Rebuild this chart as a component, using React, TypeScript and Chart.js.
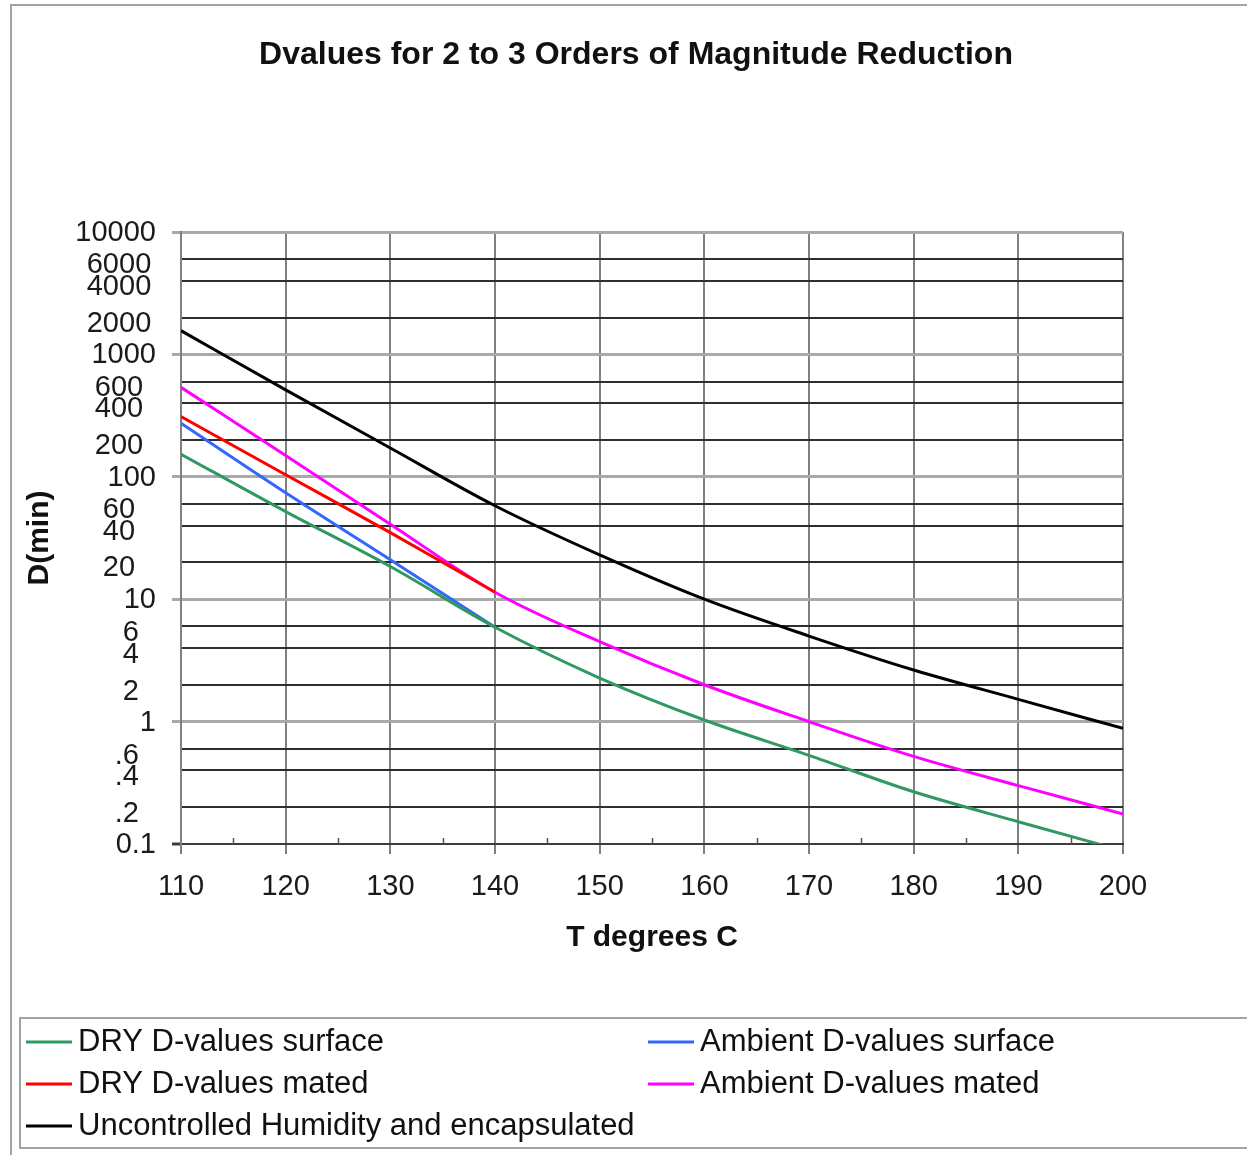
import React, { useEffect, useRef } from "react";
import { Chart, registerables } from "chart.js";

Chart.register(...registerables);

// ---------- data ----------
const temps = [110, 120, 130, 140, 150, 160, 170, 180, 190, 200];

const seriesLabels = [
  "DRY D-values surface",
  "Ambient D-values surface",
  "DRY D-values mated",
  "Ambient D-values mated",
  "Uncontrolled Humidity and encapsulated",
];
const seriesColors = ["#2f9961", "#3366ff", "#ff0000", "#ff00ff", "#000000"];

const drySurface = [153, 52, 18.5, 5.9, 2.27, 1.03, 0.53, 0.267, 0.152, 0.088];
const ambientSurface = [274, 74, 21, 5.9];
const dryMated = [310, 104, 35, 11.4];
const ambientMated = [538, 149, 41, 11.4, 4.5, 2.0, 1.0, 0.52, 0.3, 0.176];
const uncontrolled = [1563, 513, 172, 58, 23, 10, 5.0, 2.64, 1.52, 0.88];

const yTickValues = [0.1, 0.2, 0.4, 0.6, 1, 2, 4, 6, 10, 20, 40, 60, 100, 200, 400, 600, 1000, 2000, 4000, 6000, 10000];
const yTickLabels = ["0.1", ".2", ".4", ".6", "1", "2", "4", "6", "10", "20", "40", "60", "100", "200", "400", "600", "1000", "2000", "4000", "6000", "10000"];
const xMinorTicks = [115, 125, 135, 145, 155, 165, 175, 185, 195];

const chartTitle = "Dvalues for 2 to 3 Orders of Magnitude Reduction";
const xTitle = "T degrees C";
const yTitle = "D(min)";

// ---------- helpers ----------
const FONT = '"Liberation Sans", Arial, Helvetica, sans-serif';
const isDecade = (v: number) => {
  const l = Math.log10(v);
  return Math.abs(l - Math.round(l)) < 1e-9;
};
const toPoints = (vals: number[]) => vals.map((v, i) => ({ x: temps[i], y: v }));

const decorPlugin = {
  id: "decor",
  beforeDraw(chart: any) {
    const ctx = chart.ctx;
    ctx.save();
    ctx.fillStyle = "#ffffff";
    ctx.fillRect(0, 0, chart.width, chart.height);
    ctx.strokeStyle = "#a3a3a3";
    ctx.lineWidth = 2;
    ctx.beginPath();
    ctx.moveTo(11, chart.height);
    ctx.lineTo(11, 5);
    ctx.lineTo(chart.width, 5);
    ctx.stroke();
    ctx.restore();
  },
  afterDraw(chart: any) {
    const ctx = chart.ctx;
    const ys = chart.scales.y;
    const xs = chart.scales.x;
    const area = chart.chartArea;
    ctx.save();

    // title
    ctx.fillStyle = "#111111";
    ctx.font = `bold 32px ${FONT}`;
    ctx.textAlign = "center";
    ctx.textBaseline = "middle";
    ctx.fillText(chartTitle, 636, 55);

    // y tick labels
    ctx.font = `29px ${FONT}`;
    ctx.fillStyle = "#1a1a1a";
    yTickValues.forEach((v, i) => {
      const py = ys.getPixelForValue(v);
      if (isDecade(v)) {
        ctx.textAlign = "right";
        ctx.fillText(yTickLabels[i], area.left - 25, py + 1);
      } else if (v >= 20) {
        ctx.textAlign = "center";
        ctx.fillText(yTickLabels[i], area.left - 62, py + 6);
      } else {
        ctx.textAlign = "right";
        ctx.fillText(yTickLabels[i], area.left - 42, py + 7);
      }
    });

    // minor x ticks (inside)
    ctx.strokeStyle = "#555555";
    ctx.lineWidth = 1.5;
    xMinorTicks.forEach((t) => {
      const px = Math.round(xs.getPixelForValue(t)) + 0.5;
      ctx.beginPath();
      ctx.moveTo(px, area.bottom);
      ctx.lineTo(px, area.bottom - 6);
      ctx.stroke();
    });

    // legend
    const bx = 20, by = 1018, bh = 130;
    ctx.fillStyle = "#ffffff";
    ctx.fillRect(bx, by, chart.width - bx + 10, bh);
    ctx.strokeStyle = "#a3a3a3";
    ctx.lineWidth = 2;
    ctx.strokeRect(bx, by, chart.width - bx + 10, bh);
    const colX = [26, 648];
    ctx.font = `31px ${FONT}`;
    ctx.textAlign = "left";
    ctx.textBaseline = "middle";
    chart.data.datasets.forEach((ds: any, i: number) => {
      const col = i % 2;
      const row = Math.floor(i / 2);
      const x0 = colX[col];
      const y0 = 1042 + row * 42;
      ctx.strokeStyle = ds.borderColor;
      ctx.lineWidth = 3;
      ctx.beginPath();
      ctx.moveTo(x0, y0);
      ctx.lineTo(x0 + 46, y0);
      ctx.stroke();
      ctx.fillStyle = "#111111";
      ctx.fillText(ds.label, x0 + 52, y0);
    });

    ctx.restore();
  },
};

export default function App() {
  const ref = useRef<HTMLCanvasElement>(null);

  useEffect(() => {
    document.body.style.margin = "0";
    const canvas = ref.current;
    if (!canvas) return;
    Chart.defaults.font.family = FONT;

    const seriesData = [drySurface, ambientSurface, dryMated, ambientMated, uncontrolled];

    const chart = new Chart(canvas, {
      type: "line",
      data: {
        datasets: seriesData.map((vals, i) => ({
          label: seriesLabels[i],
          data: toPoints(vals),
          borderColor: seriesColors[i],
          backgroundColor: seriesColors[i],
          borderWidth: 3,
          pointRadius: 0,
          fill: false,
          cubicInterpolationMode: "monotone",
        })),
      },
      options: {
        responsive: false,
        maintainAspectRatio: false,
        devicePixelRatio: 1,
        animation: false,
        layout: { padding: { left: 10, right: 124, top: 232, bottom: 191 } },
        plugins: {
          legend: { display: false },
          title: { display: false },
          tooltip: { enabled: false },
        },
        scales: {
          x: {
            type: "linear",
            position: "bottom",
            min: 110,
            max: 200,
            ticks: {
              stepSize: 10,
              autoSkip: false,
              maxRotation: 0,
              padding: 16,
              color: "#1a1a1a",
              font: { family: FONT, size: 29 },
            },
            grid: {
              color: "#808080",
              lineWidth: 2,
              tickLength: 10,
              tickColor: "#808080",
              tickWidth: 2,
            },
            border: { display: true, color: "#3c3c3c", width: 2 },
            title: {
              display: true,
              text: xTitle,
              color: "#111111",
              font: { family: FONT, size: 30, weight: "bold" },
              padding: { top: 0, bottom: 8 },
            },
            afterFit: (s: any) => {
              s.height = 120;
            },
          },
          y: {
            type: "logarithmic",
            position: "left",
            min: 0.1,
            max: 10000,
            afterBuildTicks: (s: any) => {
              s.ticks = yTickValues.map((v) => ({ value: v }));
            },
            ticks: { display: false },
            grid: {
              color: (c: any) => {
                const v = c.tick ? c.tick.value : 1;
                if (v <= 0.1) return "#3c3c3c";
                return isDecade(v) ? "#a9a9a9" : "#2e2e2e";
              },
              lineWidth: (c: any) => {
                const v = c.tick ? c.tick.value : 1;
                if (v <= 0.1) return 2;
                return isDecade(v) ? 3 : 2;
              },
              tickLength: 9,
              tickColor: (c: any) => {
                const v = c.tick ? c.tick.value : 1;
                if (v <= 0.1) return "#3c3c3c";
                return isDecade(v) ? "#a9a9a9" : "rgba(0,0,0,0)";
              },
              tickWidth: 3,
            },
            border: { display: true, color: "#808080", width: 2 },
            title: {
              display: true,
              text: yTitle,
              color: "#111111",
              font: { family: FONT, size: 30, weight: "bold" },
              padding: { top: 12, bottom: 0 },
            },
            afterFit: (s: any) => {
              s.width = 171;
            },
          },
        },
      },
      plugins: [decorPlugin],
    } as any);

    return () => chart.destroy();
  }, []);

  return (
    <div style={{ width: 1247, height: 1155 }}>
      <canvas ref={ref} width={1247} height={1155} style={{ display: "block" }} />
    </div>
  );
}
